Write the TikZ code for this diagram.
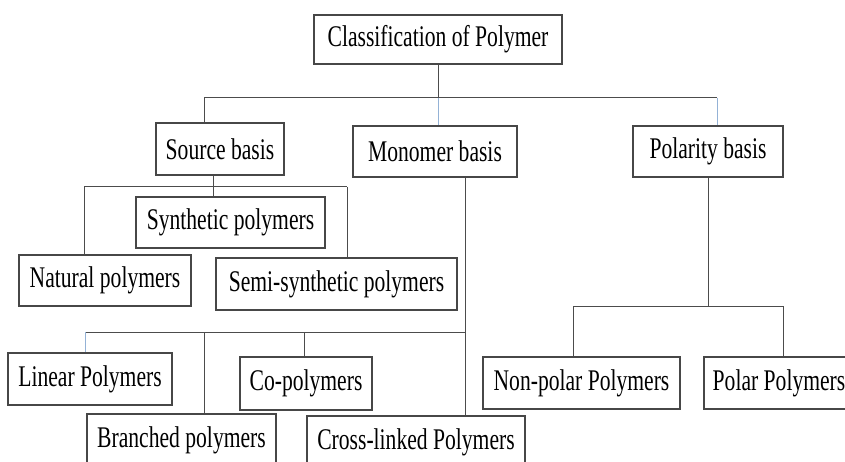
\documentclass[tikz,border=0pt]{standalone}
\usepackage{fontspec}
\setmainfont{Liberation Serif}
\definecolor{boxcol}{gray}{0.28}
\definecolor{linecol}{gray}{0.3}
\definecolor{bluecol}{rgb}{0.58,0.70,0.84}
\newcommand{\sqz}[1]{\scalebox{0.72}[1]{#1}}
\begin{document}
\begin{tikzpicture}[x=1pt,y=-1pt,
  box/.style={draw=boxcol, line width=1.4pt, rectangle, inner sep=0pt,
    font=\fontsize{30}{34}\selectfont, text=black},
  link/.style={draw=linecol, line width=1pt},
  blink/.style={draw=bluecol, line width=1pt}]
\useasboundingbox (0,0) rectangle (845,462);
\clip (0,0) rectangle (845,462);
\fill[white] (0,0) rectangle (845,462);

% boxes
\node[box, minimum width=248pt, minimum height=49pt] (top) at (438,39.5) {\sqz{Classification of Polymer}};
\node[box, minimum width=128pt, minimum height=52pt] (src) at (220,149) {\sqz{Source basis}};
\node[box, minimum width=164pt, minimum height=51pt] (mono) at (435,151.5) {\sqz{Monomer basis}};
\node[box, minimum width=150pt, minimum height=51pt] (pol) at (708,151.5) {\sqz{Polarity basis}};
\node[box, minimum width=189pt, minimum height=51pt] (syn) at (230.5,222.5) {\sqz{Synthetic polymers}};
\node[box, minimum width=172pt, minimum height=51pt] (nat) at (105,280.5) {\sqz{Natural polymers}};
\node[box, minimum width=241pt, minimum height=52pt] (semi) at (336.5,284) {\sqz{Semi-synthetic polymers}};
\node[box, minimum width=164pt, minimum height=52pt] (lin) at (90,379) {\sqz{Linear Polymers}};
\node[box, minimum width=132pt, minimum height=53pt] (co) at (306,383.5) {\sqz{Co-polymers}};
\node[box, minimum width=189pt, minimum height=52pt] (bra) at (181.5,440) {\sqz{Branched polymers}};
\node[box, minimum width=218pt, minimum height=52pt] (cross) at (416,442) {\sqz{Cross-linked Polymers}};
\node[box, minimum width=197pt, minimum height=52pt] (np) at (581.5,383) {\sqz{Non-polar Polymers}};
\node[box, minimum width=150pt, minimum height=52pt] (polar) at (779,383) {\sqz{Polar Polymers}};

% junctions
\coordinate (j0) at (438,98);
\coordinate (jL) at (204,98);
\coordinate (jR) at (717,98);
\coordinate (s0) at (213,187);
\coordinate (sL) at (84,187);
\coordinate (sR) at (347,187);
\coordinate (m0) at (465,332);
\coordinate (mL) at (85,332);
\coordinate (mB) at (204,332);
\coordinate (mC) at (304,332);
\coordinate (p0) at (708,306);
\coordinate (pL) at (573,306);
\coordinate (pR) at (783,306);

% top level
\draw[link] (top.south) -- (j0);
\draw[link] (jL) -- (jR);
\draw[link] (jL) -- (jL |- src.north);
\draw[blink] (j0) -- (j0 |- mono.north);
\draw[blink] (jR) -- (jR |- pol.north);

% source basis
\draw[link] (src.south -| s0) -- (s0 |- syn.north);
\draw[link] (sL) -- (sR);
\draw[link] (sL) -- (sL |- nat.north);
\draw[link] (sR) -- (sR |- semi.north);

% monomer basis
\draw[link] (mono.south -| m0) -- (m0 |- cross.north);
\draw[link] (mL) -- (m0);
\draw[blink] (mL) -- (mL |- lin.north);
\draw[link] (mB) -- (mB |- bra.north);
\draw[link] (mC) -- (mC |- co.north);

% polarity basis
\draw[link] (pol.south) -- (p0);
\draw[link] (pL) -- (pR);
\draw[link] (pL) -- (pL |- np.north);
\draw[link] (pR) -- (pR |- polar.north);
\end{tikzpicture}
\end{document}
